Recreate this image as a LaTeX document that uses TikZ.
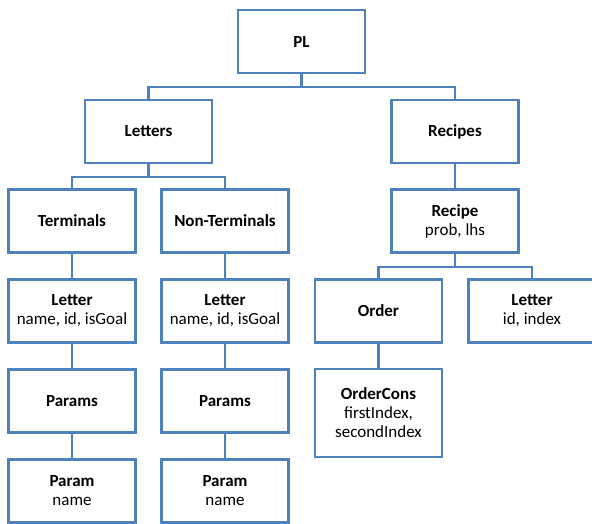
\documentclass[tikz,border=0pt]{standalone}
\usepackage{fontspec}
\setmainfont{Carlito}
\definecolor{boxblue}{HTML}{4F81BD}
\tikzset{
  box/.style={draw=boxblue, line width=2.6pt, fill=white, minimum width=127pt, minimum height=63pt,
    inner sep=0pt, align=center, font=\fontsize{17}{19}\selectfont},
  link/.style={draw=boxblue, line width=2.6pt},
}
\begin{document}
\begin{tikzpicture}[x=1pt,y=-1pt]
\clip (0,0) rectangle (592,523);
\fill[white] (0,0) rectangle (592,523);
% connectors first
\coordinate (b1) at (0,87);
\coordinate (b2) at (0,177);
\coordinate (b3) at (0,267);
\node[box] (pl) at (301.5,41.5) {\textbf{PL}};
\node[box] (letters) at (148.5,131.5) {\textbf{Letters}};
\node[box] (recipes) at (455,131.5) {\textbf{Recipes}};
\node[box] (term) at (72,221) {\textbf{Terminals}};
\node[box] (nonterm) at (225,221) {\textbf{Non-Terminals}};
\node[box] (recipe) at (455,221) {\textbf{Recipe}\\prob, lhs};
\node[box] (let1) at (72,311) {\textbf{Letter}\\name, id, isGoal};
\node[box] (let2) at (225,311) {\textbf{Letter}\\name, id, isGoal};
\node[box] (order) at (378.5,311) {\textbf{Order}};
\node[box] (let3) at (532,311) {\textbf{Letter}\\id, index};
\node[box] (params1) at (72,401) {\textbf{Params}};
\node[box] (params2) at (225,401) {\textbf{Params}};
\node[box, minimum height=88pt] (ordercons) at (378.5,413) {\textbf{OrderCons}\\firstIndex,\\secondIndex};
\node[box] (param1) at (72,491) {\textbf{Param}\\name};
\node[box] (param2) at (225,491) {\textbf{Param}\\name};
\begin{scope}[link]
\draw (pl.south) -- (pl.south |- b1) -| (letters.north);
\draw (pl.south) -- (pl.south |- b1) -| (recipes.north);
\draw (letters.south) -- (letters.south |- b2) -| (term.north);
\draw (letters.south) -- (letters.south |- b2) -| (nonterm.north);
\draw (recipes.south) -- (recipe.north);
\draw (recipe.south) -- (recipe.south |- b3) -| (order.north);
\draw (recipe.south) -- (recipe.south |- b3) -| (let3.north);
\draw (term.south) -- (let1.north);
\draw (nonterm.south) -- (let2.north);
\draw (let1.south) -- (params1.north);
\draw (let2.south) -- (params2.north);
\draw (params1.south) -- (param1.north);
\draw (params2.south) -- (param2.north);
\draw (order.south) -- (ordercons.north);
\end{scope}
\end{tikzpicture}
\end{document}
